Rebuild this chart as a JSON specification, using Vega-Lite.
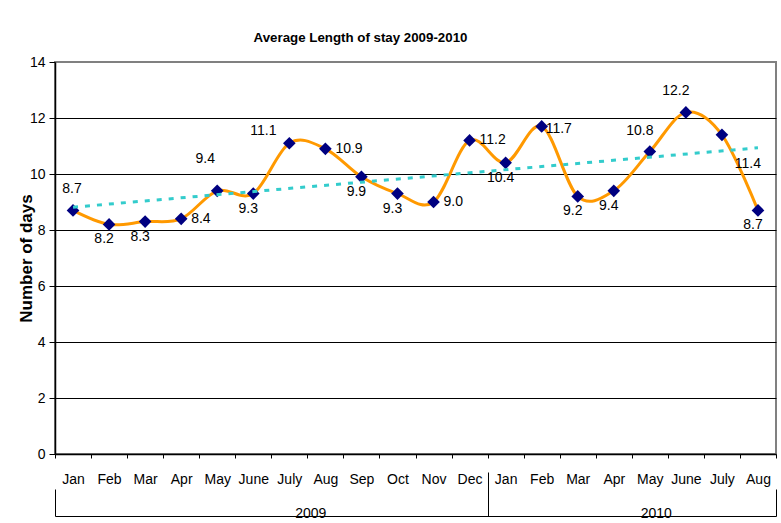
{
  "$schema": "https://vega.github.io/schema/vega-lite/v6.json",
  "width": 721,
  "height": 392,
  "autosize": {"type": "none"},
  "padding": {"left": 55, "top": 62, "right": 5, "bottom": 69},
  "background": "white",
  "title": {
    "text": "Average Length of stay 2009-2010",
    "font": "Liberation Sans",
    "fontSize": 13.3,
    "fontWeight": "bold",
    "color": "black",
    "anchor": "middle",
    "frame": "group",
    "baseline": "alphabetic",
    "offset": 0,
    "dx": -55
  },
  "config": {
    "view": {"stroke": "#808080", "strokeWidth": 2},
    "font": "Liberation Sans"
  },
  "data": {
    "values": [
      {"key": "Jan 2009", "days": 8.7},
      {"key": "Feb 2009", "days": 8.2},
      {"key": "Mar 2009", "days": 8.3},
      {"key": "Apr 2009", "days": 8.4},
      {"key": "May 2009", "days": 9.4},
      {"key": "June 2009", "days": 9.3},
      {"key": "July 2009", "days": 11.1},
      {"key": "Aug 2009", "days": 10.9},
      {"key": "Sep 2009", "days": 9.9},
      {"key": "Oct 2009", "days": 9.3},
      {"key": "Nov 2009", "days": 9.0},
      {"key": "Dec 2009", "days": 11.2},
      {"key": "Jan 2010", "days": 10.4},
      {"key": "Feb 2010", "days": 11.7},
      {"key": "Mar 2010", "days": 9.2},
      {"key": "Apr 2010", "days": 9.4},
      {"key": "May 2010", "days": 10.8},
      {"key": "June 2010", "days": 12.2},
      {"key": "July 2010", "days": 11.4},
      {"key": "Aug 2010", "days": 8.7}
    ]
  },
  "encoding": {
    "y": {
      "field": "days",
      "type": "quantitative",
      "scale": {"domain": [0, 14], "nice": false, "zero": true},
      "axis": {
        "values": [0, 2, 4, 6, 8, 10, 12, 14],
        "grid": true,
        "gridColor": "black",
        "gridWidth": 1,
        "gridOpacity": {"condition": {"test": "datum.value == 14 || datum.value == 0", "value": 0}, "value": 1},
        "domainColor": "black",
        "domainWidth": 1.5,
        "tickColor": "black",
        "tickSize": 6,
        "labelPadding": 4,
        "labelFont": "Liberation Sans",
        "labelFontSize": 14,
        "labelColor": "black",
        "title": "Number of days",
        "titleFont": "Liberation Sans",
        "titleFontWeight": "bold",
        "titleFontSize": 17,
        "titleColor": "black",
        "titlePadding": -6
      }
    }
  },
  "layer": [
    {
      "encoding": {
        "x": {
          "field": "key",
          "type": "ordinal",
          "sort": null,
          "scale": {"type": "band", "paddingInner": 0, "paddingOuter": 0},
          "axis": {
            "title": null,
            "orient": "bottom",
            "labelExpr": "isString(datum.value) ? split(datum.value, ' ')[0] : ''",
            "labelAngle": 0,
            "labelFont": "Liberation Sans",
            "labelFontSize": 14,
            "labelColor": "black",
            "labelPadding": 14,
            "tickBand": "extent",
            "tickSize": 4,
            "tickColor": "black",
            "domainColor": "black",
            "domainWidth": 1.5,
            "grid": false
          }
        }
      },
      "layer": [
        {
          "mark": {"type": "line", "color": "#FF9900", "strokeWidth": 3, "interpolate": "cardinal"}
        },
        {
          "mark": {"type": "point", "shape": "diamond", "filled": true, "color": "#000080", "size": 160, "opacity": 1}
        },
        {
          "transform": [{"filter": {"field": "key", "equal": "Jan 2009"}}],
          "mark": {"type": "text", "fontSize": 14, "color": "black", "align": "center", "baseline": "middle", "dx": -1, "dy": -21},
          "encoding": {"text": {"field": "days", "type": "quantitative", "format": ".1f"}}
        },
        {
          "transform": [{"filter": {"field": "key", "oneOf": ["May 2010", "June 2010"]}}],
          "mark": {"type": "text", "fontSize": 14, "color": "black", "align": "center", "baseline": "middle", "dx": -10, "dy": -21},
          "encoding": {"text": {"field": "days", "type": "quantitative", "format": ".1f"}}
        },
        {
          "transform": [{"filter": {"field": "key", "oneOf": ["Feb 2009", "Mar 2009", "June 2009", "Sep 2009", "Oct 2009", "Jan 2010", "Mar 2010", "Apr 2010", "Aug 2010"]}}],
          "mark": {"type": "text", "fontSize": 14, "color": "black", "align": "center", "baseline": "middle", "dx": -5, "dy": 15},
          "encoding": {"text": {"field": "days", "type": "quantitative", "format": ".1f"}}
        },
        {
          "transform": [{"filter": {"field": "key", "oneOf": ["Apr 2009", "Aug 2009", "Nov 2009", "Dec 2009"]}}],
          "mark": {"type": "text", "fontSize": 14, "color": "black", "align": "left", "baseline": "middle", "dx": 10, "dy": 0},
          "encoding": {"text": {"field": "days", "type": "quantitative", "format": ".1f"}}
        },
        {
          "transform": [{"filter": {"field": "key", "equal": "Feb 2010"}}],
          "mark": {"type": "text", "fontSize": 14, "color": "black", "align": "left", "baseline": "middle", "dx": 4, "dy": 3},
          "encoding": {"text": {"field": "days", "type": "quantitative", "format": ".1f"}}
        },
        {
          "transform": [{"filter": {"field": "key", "equal": "May 2009"}}],
          "mark": {"type": "text", "fontSize": 14, "color": "black", "align": "center", "baseline": "middle", "dx": -12, "dy": -32},
          "encoding": {"text": {"field": "days", "type": "quantitative", "format": ".1f"}}
        },
        {
          "transform": [{"filter": {"field": "key", "equal": "July 2009"}}],
          "mark": {"type": "text", "fontSize": 14, "color": "black", "align": "center", "baseline": "middle", "dx": -26, "dy": -12},
          "encoding": {"text": {"field": "days", "type": "quantitative", "format": ".1f"}}
        },
        {
          "transform": [{"filter": {"field": "key", "equal": "July 2010"}}],
          "mark": {"type": "text", "fontSize": 14, "color": "black", "align": "center", "baseline": "middle", "dx": 26, "dy": 29},
          "encoding": {"text": {"field": "days", "type": "quantitative", "format": ".1f"}}
        }
      ]
    },
    {
      "transform": [
        {"window": [{"op": "row_number", "as": "n"}]},
        {"regression": "days", "on": "n"}
      ],
      "mark": {"type": "line", "color": "#33CCCC", "strokeWidth": 3, "strokeDash": [5, 7]},
      "encoding": {
        "x": {
          "field": "n",
          "type": "quantitative",
          "scale": {"domain": [0.5, 20.5], "nice": false, "zero": false},
          "axis": {
            "orient": "bottom",
            "offset": 62,
            "title": null,
            "values": [0.5, 6.5, 12.5, 16.5, 20.5],
            "labelExpr": "datum.value == 6.5 ? '2009' : (datum.value == 16.5 ? '2010' : '')",
            "labelFont": "Liberation Sans",
            "labelFontSize": 14,
            "labelColor": "black",
            "labelBaseline": "middle",
            "labelPadding": 24,
            "labelOffset": {"condition": {"test": "datum.value < 10", "value": 39}, "value": 24},
            "tickSize": {"condition": {"test": "datum.value == 12.5", "value": -44}, "value": -27},
            "tickOpacity": {"condition": {"test": "datum.value == 6.5 || datum.value == 16.5", "value": 0}, "value": 1},
            "tickColor": "black",
            "domainColor": "black",
            "grid": false,
            "labelFlush": false,
            "labelOverlap": false
          }
        },
        "y": {"field": "days", "type": "quantitative"}
      }
    }
  ],
  "resolve": {"scale": {"x": "independent"}, "axis": {"x": "independent"}}
}
